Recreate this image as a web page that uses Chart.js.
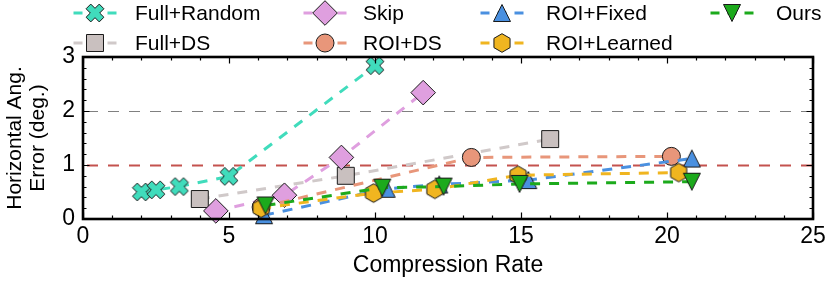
<!DOCTYPE html>
<html><head><meta charset="utf-8">
<script src="https://cdn.jsdelivr.net/npm/chart.js@4.4.0/dist/chart.umd.min.js"></script>
<style>html,body{margin:0;padding:0;background:#fff;}canvas{display:block;}</style>
</head><body>
<canvas id="c" width="830" height="281"></canvas>
<script>
// ---------- data ----------
const seriesNames = ['Full+Random', 'Full+DS', 'Skip', 'ROI+DS', 'ROI+Fixed', 'ROI+Learned', 'Ours'];
const fullRandomX = [2.0, 2.5, 3.3, 5.0, 10.0];
const fullRandomY = [0.50, 0.54, 0.60, 0.79, 2.84];
const fullDsX = [4.0, 9.0, 16.0];
const fullDsY = [0.37, 0.80, 1.48];
const skipX = [4.55, 6.9, 8.85, 11.65];
const skipY = [0.15, 0.44, 1.14, 2.34];
const roiDsX = [6.1, 13.3, 20.15];
const roiDsY = [0.22, 1.14, 1.16];
const roiFixedX = [6.2, 10.4, 12.2, 15.25, 20.85];
const roiFixedY = [0.07, 0.56, 0.64, 0.72, 1.12];
const roiLearnedX = [6.1, 9.95, 12.05, 14.9, 20.4];
const roiLearnedY = [0.20, 0.48, 0.55, 0.81, 0.86];
const oursX = [6.25, 10.25, 12.35, 14.95, 20.85];
const oursY = [0.25, 0.58, 0.60, 0.65, 0.69];
const xTicks = [0, 5, 10, 15, 20, 25];
const yTicks = [0, 1, 2, 3];
const refLineValues = [1, 2];

const seriesX = [fullRandomX, fullDsX, skipX, roiDsX, roiFixedX, roiLearnedX, oursX];
const seriesY = [fullRandomY, fullDsY, skipY, roiDsY, roiFixedY, roiLearnedY, oursY];

// ---------- styles ----------
const FONT = "'Liberation Sans', Arial, Helvetica, sans-serif";
const fillColors = ['#40dcbc', '#c9c0bf', '#df9fdf', '#e8967a', '#4a90e0', '#f0b520', '#1caa1c'];
const lineColors = ['#40dcbc', '#d0c9c9', '#df9fdf', '#e8967a', '#4a90e0', '#f0b520', '#1caa1c'];
const EDGE = '#1a1a1a';

function markerCanvas(size, pathFn, fill) {
  const c = document.createElement('canvas');
  c.width = size; c.height = size;
  const g = c.getContext('2d');
  g.translate(size / 2, size / 2);
  g.beginPath(); pathFn(g); g.closePath();
  g.fillStyle = fill; g.fill();
  g.lineWidth = 1; g.strokeStyle = EDGE; g.lineJoin = 'miter'; g.stroke();
  return c;
}
function xPath(g) {
  const L = 9.3, t = 3.3, c = Math.SQRT1_2;
  const p = [[t,t],[t,L],[-t,L],[-t,t],[-L,t],[-L,-t],[-t,-t],[-t,-L],[t,-L],[t,-t],[L,-t],[L,t]];
  p.forEach(([x, y], i) => { const X = (x - y) * c, Y = (x + y) * c; i ? g.lineTo(X, Y) : g.moveTo(X, Y); });
}
function hexPath(g) {
  const R = 9.3;
  for (let i = 0; i < 6; i++) {
    const a = -Math.PI / 2 + i * Math.PI / 3;
    const X = R * Math.cos(a), Y = R * Math.sin(a);
    i ? g.lineTo(X, Y) : g.moveTo(X, Y);
  }
}
function triUp(g) { const h = 8.5; g.moveTo(0, -h); g.lineTo(h, h); g.lineTo(-h, h); }
function triDown(g) { const h = 8.5; g.moveTo(0, h); g.lineTo(h, -h); g.lineTo(-h, -h); }

const markers = [
  markerCanvas(22, xPath, fillColors[0]),
  'rect',
  'rectRot',
  'circle',
  markerCanvas(22, triUp, fillColors[4]),
  markerCanvas(22, hexPath, fillColors[5]),
  markerCanvas(22, triDown, fillColors[6])
];
const radii = [10, 12, 12.3, 9, 10, 10, 10];

const datasets = seriesNames.map((name, i) => ({
  label: name,
  data: seriesX[i].map((x, k) => ({ x: x, y: seriesY[i][k] })),
  borderColor: lineColors[i],
  backgroundColor: fillColors[i],
  pointBackgroundColor: fillColors[i],
  pointBorderColor: EDGE,
  pointBorderWidth: 1,
  pointStyle: markers[i],
  pointRadius: radii[i],
  pointHoverRadius: radii[i],
  borderWidth: 3,
  borderDash: [10, 9],
  showLine: true,
  fill: false,
  tension: 0,
  clip: false,
  order: seriesNames.length - i
}));

// ---------- plugin: reference lines, frame, inward ticks, legend ----------
const decor = {
  id: 'decor',
  beforeDatasetsDraw(chart) {
    const { ctx, chartArea: a, scales: { y } } = chart;
    ctx.save();
    refLineValues.forEach(v => {
      const py = Math.round(y.getPixelForValue(v)) + 0.5;
      ctx.beginPath();
      if (v === 1) { ctx.strokeStyle = '#c4524e'; ctx.lineWidth = 2; }
      else { ctx.strokeStyle = '#808080'; ctx.lineWidth = 1.1; }
      ctx.setLineDash([11, 10]);
      ctx.lineDashOffset = -4;
      ctx.moveTo(a.left, py); ctx.lineTo(a.right, py);
      ctx.stroke();
    });
    ctx.restore();
  },
  afterDatasetsDraw(chart) {
    const { ctx, chartArea: a, scales: { x, y } } = chart;
    ctx.save();
    ctx.setLineDash([]);
    ctx.strokeStyle = '#000';
    ctx.lineWidth = 1.2;
    ctx.beginPath();
    for (let v = 0; v <= 25; v++) {
      const px = Math.round(x.getPixelForValue(v)) + 0.5;
      const len = (v % 5 === 0) ? 6.5 : 3.5;
      ctx.moveTo(px, a.bottom); ctx.lineTo(px, a.bottom - len);
      ctx.moveTo(px, a.top); ctx.lineTo(px, a.top + len);
    }
    for (let k = 0; k <= 15; k++) {
      const v = k * 0.2;
      const py = Math.round(y.getPixelForValue(v)) + 0.5;
      const len = (k % 5 === 0) ? 6.5 : 3.5;
      ctx.moveTo(a.left, py); ctx.lineTo(a.left + len, py);
      ctx.moveTo(a.right, py); ctx.lineTo(a.right - len, py);
    }
    ctx.stroke();
    ctx.lineWidth = 2.6;
    ctx.strokeRect(a.left, a.top, a.right - a.left, a.bottom - a.top);
    ctx.restore();
  },
  afterDraw(chart) {
    const { ctx } = chart;
    const markerXs = [95, 325, 502, 732];
    const textXs = [135, 363, 546, 776];
    const rowYs = [13, 43];
    ctx.save();
    chart.data.datasets.forEach((ds, i) => {
      const col = Math.floor(i / 2), row = i % 2;
      const mx = markerXs[col], my = rowYs[row];
      ctx.beginPath();
      ctx.strokeStyle = ds.borderColor;
      ctx.lineWidth = 3;
      ctx.setLineDash([9, 8]);
      ctx.lineDashOffset = 0;
      ctx.moveTo(mx - 21.5, my); ctx.lineTo(mx + 21.5, my);
      ctx.stroke();
      ctx.setLineDash([]);
      ctx.fillStyle = ds.pointBackgroundColor;
      ctx.strokeStyle = EDGE;
      ctx.lineWidth = 1;
      Chart.helpers.drawPoint(ctx, { pointStyle: ds.pointStyle, radius: ds.pointRadius, rotation: 0, borderWidth: 1 }, mx, my);
      ctx.fillStyle = '#000';
      ctx.font = '21px ' + FONT;
      ctx.textBaseline = 'middle';
      ctx.textAlign = 'left';
      ctx.fillText(ds.label, textXs[col], my + 1);
    });
    ctx.restore();
  }
};

new Chart(document.getElementById('c'), {
  type: 'scatter',
  data: { datasets: datasets },
  options: {
    responsive: false,
    animation: false,
    devicePixelRatio: 1,
    layout: { padding: { top: 57, right: 17, bottom: 0, left: 0 } },
    plugins: { legend: { display: false }, tooltip: { enabled: false } },
    scales: {
      x: {
        type: 'linear', min: 0, max: 25,
        afterBuildTicks: s => { s.ticks = xTicks.map(v => ({ value: v })); },
        afterFit: s => { s.height = 62; },
        grid: { display: false, drawTicks: false },
        border: { display: false },
        ticks: { color: '#000', font: { family: FONT, size: 23 }, padding: 4, maxRotation: 0 },
        title: { display: true, text: 'Compression Rate', color: '#000',
                 font: { family: FONT, size: 23 }, padding: { top: 0, bottom: 1.5 } }
      },
      y: {
        type: 'linear', min: 0, max: 3,
        afterBuildTicks: s => { s.ticks = yTicks.map(v => ({ value: v })); },
        afterFit: s => { s.width = 83; },
        grid: { display: false, drawTicks: false },
        border: { display: false },
        ticks: { color: '#000', font: { family: FONT, size: 23 }, padding: 8 },
        title: { display: true, text: ['Horizontal Ang.', 'Error (deg.)'], color: '#000',
                 font: { family: FONT, size: 21, lineHeight: 1.1 }, padding: { top: 3.5, bottom: 0 } }
      }
    }
  },
  plugins: [decor]
});
</script>
</body></html>
